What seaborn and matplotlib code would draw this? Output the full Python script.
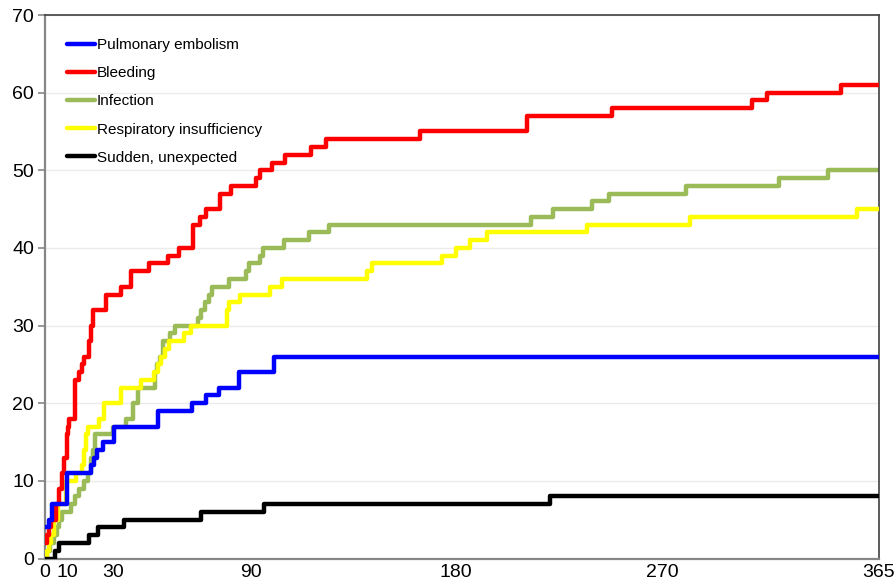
import matplotlib
matplotlib.use("Agg")
import matplotlib.pyplot as plt
import seaborn as sns

# ---- data (days since start, cumulative count) ----
pe_days = [0, 1.8, 3.1, 9.6, 20.1, 21.4, 22.8, 25.4, 30.2, 49.5, 64.3, 70.5, 76.1, 84.9, 100.2, 365]
pe_vals = [4, 5, 7, 11, 12, 13, 14, 15, 17, 19, 20, 21, 22, 24, 26, 26]

bleed_days = [0, 0.9, 1.75, 2.6, 4.8, 6.1, 7.4, 8.3, 9.6, 10.1, 10.5, 13.1, 14.9, 16.2, 17.1,
              19.3, 20.1, 21.0, 26.7, 33.3, 37.6, 45.5, 53.8, 58.6, 64.8, 67.8, 70.5, 76.6,
              81.4, 92.3, 94.1, 99.3, 105.0, 116.4, 123.0, 164.1, 210.9, 248.1, 309.4, 316.0,
              348.4, 365]
bleed_vals = [2, 3, 4, 5, 7, 9, 11, 13, 16, 17, 18, 23, 24, 25, 26,
              28, 30, 32, 34, 35, 37, 38, 39, 40, 43, 44, 45, 47,
              48, 49, 50, 51, 52, 53, 54, 55, 57, 58, 59, 60,
              61, 61]

inf_days = [0, 0.9, 2.2, 3.9, 5.25, 6.1, 7.4, 11.4, 13.1, 14.9, 17.1, 18.8, 20.1, 21.0, 21.9,
            29.8, 35.4, 38.5, 40.7, 48.1, 49.0, 50.3, 51.6, 54.7, 56.9, 67.0, 68.3, 70.0,
            71.8, 73.1, 80.5, 88.0, 89.3, 94.1, 95.4, 104.6, 115.5, 124.3, 212.7, 222.3,
            239.4, 246.8, 280.5, 321.2, 342.7, 365]
inf_vals = [0, 1, 2, 3, 4, 5, 6, 7, 8, 9, 10, 11, 13, 14, 16,
            17, 18, 20, 22, 24, 25, 26, 28, 29, 30, 31, 32, 33,
            34, 35, 36, 37, 38, 39, 40, 41, 42, 43, 44, 45,
            46, 47, 48, 49, 50, 50]

resp_days = [0, 0.9, 1.75, 2.6, 3.9, 5.7, 9.2, 13.6, 16.2, 17.1, 17.9, 18.8, 23.6, 25.8,
             33.3, 42.0, 47.7, 49.5, 50.8, 52.5, 54.3, 60.8, 63.9, 79.6, 80.5, 85.3, 98.5,
             103.7, 140.9, 143.1, 173.7, 179.9, 186.0, 193.4, 237.2, 282.3, 355.4, 365]
resp_vals = [0, 1, 2, 3, 5, 7, 10, 11, 12, 14, 16, 17, 18, 20,
             22, 23, 24, 25, 26, 27, 28, 29, 30, 32, 33, 34, 35,
             36, 37, 38, 39, 40, 41, 42, 43, 44, 45, 45]

sud_days = [0, 4.4, 6.1, 19.3, 23.2, 34.6, 68.3, 95.8, 221.0, 365]
sud_vals = [0, 1, 2, 3, 4, 5, 6, 7, 8, 8]

labels = ["Pulmonary embolism", "Bleeding", "Infection",
          "Respiratory insufficiency", "Sudden, unexpected"]
colors = ["#0000FF", "#FF0000", "#9BBB59", "#FFFF00", "#000000"]
zorders = [5, 4, 2, 3, 6]
x_ticks = [0, 10, 30, 90, 180, 270, 365]
y_ticks = [0, 10, 20, 30, 40, 50, 60, 70]

series = [(pe_days, pe_vals), (bleed_days, bleed_vals), (inf_days, inf_vals),
          (resp_days, resp_vals), (sud_days, sud_vals)]

sns.set_style("white")
plt.rcParams["font.family"] = ["Liberation Sans", "DejaVu Sans"]
plt.rcParams["text.color"] = "black"

fig = plt.figure(figsize=(8.96, 5.84), dpi=100)
ax = fig.add_axes([45 / 896, 1 - 558.5 / 584, 834 / 896, 543.5 / 584])

for (d, v), lab, col, z in zip(series, labels, colors, zorders):
    sns.lineplot(x=d, y=v, ax=ax, color=col, lw=3.2, label=lab,
                 drawstyle="steps-post", errorbar=None, sort=False, zorder=z)

ax.set_xlim(0, 365)
ax.set_ylim(0, 70)
ax.set_xticks(x_ticks)
ax.set_xticklabels([str(t) for t in x_ticks])
ax.set_yticks(y_ticks)
ax.set_xlabel("")
ax.set_ylabel("")
ax.yaxis.grid(True, color="#EBEBEB", lw=1)
ax.xaxis.grid(False)
ax.tick_params(axis="x", length=0, labelsize=14, pad=4, labelcolor="black")
ax.tick_params(axis="y", length=5, width=1.2, color="#868686", labelsize=14, pad=3,
               left=True, labelcolor="black")

for s in ["left", "bottom"]:
    ax.spines[s].set_color("#868686")
    ax.spines[s].set_linewidth(1.6)
for s in ["top", "right"]:
    ax.spines[s].set_color("#404040")
    ax.spines[s].set_linewidth(1.2)

handles, labs = ax.get_legend_handles_labels()
leg = ax.legend(handles, labs, loc="upper left",
                bbox_to_anchor=(67 / 896, 1 - 38 / 584), bbox_transform=fig.transFigure,
                frameon=False, fontsize=11, handlelength=1.85, handletextpad=0.1,
                labelspacing=0.93, borderpad=0, borderaxespad=0)
for h in leg.legend_handles:
    h.set_linewidth(3.2)
for t in leg.get_texts():
    t.set_color("black")

fig.savefig("out.png", dpi=100)
